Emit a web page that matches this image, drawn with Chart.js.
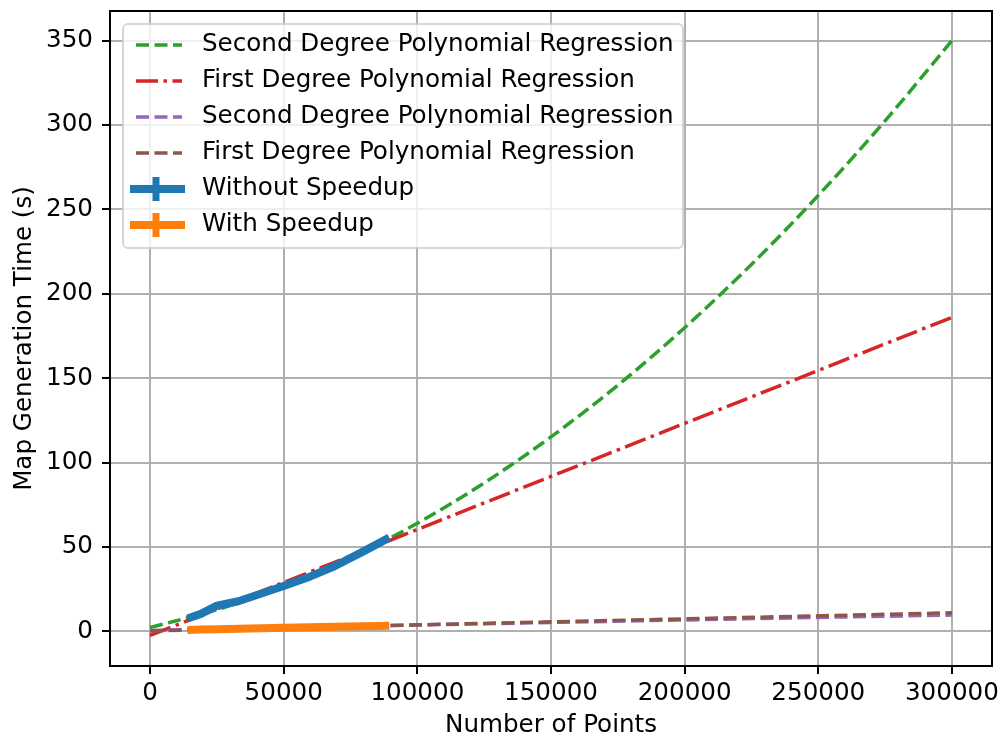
<!DOCTYPE html>
<html>
<head>
<meta charset="utf-8">
<script src="https://cdn.jsdelivr.net/npm/chart.js@4.4.1/dist/chart.umd.min.js"></script>
<style>
    html, body { margin: 0; padding: 0; background: #fff; }
    #wrap { width: 1003px; height: 742px; }
</style>
</head>
<body>
<div id="wrap"><canvas id="timeChart" width="1003" height="742"></canvas></div>
<script>
// tick positions
const xTicks = [0, 50000, 100000, 150000, 200000, 250000, 300000];
const yTicks = [0, 50, 100, 150, 200, 250, 300, 350];

// measured runs
const pointsNoSpeedup = [14000, 19000, 25000, 33000, 40000, 50000, 60000, 69000, 80000, 89500];
const timeNoSpeedup   = [7.5, 10.3, 15.2, 17.8, 21.5, 26.8, 32.5, 38.5, 47.5, 55.5];
const pointsSpeedup = [14000, 19000, 25000, 33000, 50000, 69000, 89500];
const timeSpeedup   = [0.8, 1.0, 1.2, 1.5, 2.0, 2.6, 3.3];

// regression curves
const quadX    = [0, 25000, 50000, 75000, 100000, 125000, 150000, 175000, 200000, 225000, 250000, 275000, 300000];
const quadSlow = [2.2, 12.8, 26.5, 43.5, 64, 87.9, 115.2, 145.8, 179.9, 217.4, 258.3, 302.5, 350];
const linX     = [0, 300000];
const linSlow  = [-2.5, 186];
const quadFastX = [0, 50000, 100000, 150000, 200000, 250000, 300000];
const quadFast  = [0.5, 2.1, 3.7, 5.2, 6.7, 8.2, 9.6];
const linFast   = [0.2, 10.9];

const FONT = '"DejaVu Sans", sans-serif';
const FSIZE = 24.6;
const pts = (xs, ys) => xs.map((x, i) => ({ x: x, y: ys[i] }));

// spines on top of the lines, legend box above everything
const frameAndLegend = {
    id: 'frameAndLegend',
    afterDatasetsDraw(chart) {
        const { ctx, chartArea: a } = chart;
        ctx.save();
        ctx.strokeStyle = '#000';
        ctx.lineWidth = 2;
        ctx.strokeRect(a.left, a.top, a.right - a.left, a.bottom - a.top);
        ctx.restore();
    },
    afterDraw(chart) {
        const ctx = chart.ctx;
        const box = { x: 123, y: 24, w: 560, h: 224, r: 5 };
        ctx.save();
        ctx.beginPath();
        ctx.roundRect(box.x, box.y, box.w, box.h, box.r);
        ctx.fillStyle = 'rgba(255,255,255,0.8)';
        ctx.fill();
        ctx.strokeStyle = 'rgba(204,204,204,0.8)';
        ctx.lineWidth = 2;
        ctx.stroke();

        ctx.font = FSIZE + 'px ' + FONT;
        ctx.textBaseline = 'middle';
        ctx.fillStyle = '#000';
        chart.data.datasets.forEach((ds, i) => {
            const cy = 45 + i * 36;
            ctx.strokeStyle = ds.borderColor;
            if (ds.errorStyle) {
                ctx.setLineDash([]);
                ctx.lineWidth = 8;
                ctx.beginPath();
                ctx.moveTo(130, cy);
                ctx.lineTo(185, cy);
                ctx.stroke();
                ctx.lineWidth = 7;
                ctx.beginPath();
                ctx.moveTo(156, cy - 12);
                ctx.lineTo(156, cy + 12);
                ctx.stroke();
            } else {
                ctx.setLineDash(ds.borderDash || []);
                ctx.lineWidth = ds.borderWidth;
                ctx.beginPath();
                ctx.moveTo(136, cy);
                ctx.lineTo(182, cy);
                ctx.stroke();
            }
            ctx.setLineDash([]);
            ctx.fillText(ds.label, 202, cy);
        });
        ctx.restore();
    }
};

const dash = [13, 5.5];
const dashDot = [22, 5.5, 3.5, 5.5];

new Chart(document.getElementById('timeChart'), {
    type: 'line',
    data: {
        datasets: [
            { label: 'Second Degree Polynomial Regression', data: pts(quadX, quadSlow),
              borderColor: '#2ca02c', borderWidth: 3.5, borderDash: dash, cubicInterpolationMode: 'monotone', order: 5 },
            { label: 'First Degree Polynomial Regression', data: pts(linX, linSlow),
              borderColor: '#d62728', borderWidth: 3.5, borderDash: dashDot, order: 4 },
            { label: 'Second Degree Polynomial Regression', data: pts(quadFastX, quadFast),
              borderColor: '#9467bd', borderWidth: 3.5, borderDash: dash, cubicInterpolationMode: 'monotone', order: 3 },
            { label: 'First Degree Polynomial Regression', data: pts(linX, linFast),
              borderColor: '#8c564b', borderWidth: 3.5, borderDash: dash, order: 2 },
            { label: 'Without Speedup', data: pts(pointsNoSpeedup, timeNoSpeedup),
              borderColor: '#1f77b4', borderWidth: 8, errorStyle: true, borderJoinStyle: 'round', order: 1 },
            { label: 'With Speedup', data: pts(pointsSpeedup, timeSpeedup),
              borderColor: '#ff7f0e', borderWidth: 8, errorStyle: true, borderJoinStyle: 'round', order: 0 }
        ]
    },
    options: {
        responsive: false,
        animation: false,
        devicePixelRatio: 1,
        layout: { padding: { left: 0, top: 11, right: 11, bottom: 0 } },
        elements: { point: { radius: 0 }, line: { tension: 0, fill: false } },
        plugins: { legend: { display: false }, tooltip: { enabled: false } },
        scales: {
            x: {
                type: 'linear',
                min: -15000,
                max: 315000,
                afterBuildTicks: (s) => { s.ticks = xTicks.map(v => ({ value: v })); },
                afterFit: (s) => { s.height = 76; s.paddingLeft = 0; s.paddingRight = 0; },
                grid: { color: '#b0b0b0', lineWidth: 2, tickColor: '#000', tickLength: 8, tickWidth: 2 },
                border: { display: false },
                ticks: { color: '#000', font: { family: FONT, size: FSIZE }, padding: 5, maxRotation: 0,
                         callback: (v) => String(v) },
                title: { display: true, text: 'Number of Points', color: '#000',
                         font: { family: FONT, size: FSIZE }, padding: { top: 0, bottom: 2 } }
            },
            y: {
                type: 'linear',
                min: -20.6,
                max: 367.6,
                afterBuildTicks: (s) => { s.ticks = yTicks.map(v => ({ value: v })); },
                afterFit: (s) => { s.width = 110; s.paddingTop = 0; s.paddingBottom = 0; },
                grid: { color: '#b0b0b0', lineWidth: 2, tickColor: '#000', tickLength: 8, tickWidth: 2 },
                border: { display: false },
                ticks: { color: '#000', font: { family: FONT, size: FSIZE }, padding: 9,
                         callback: (v) => String(v) },
                title: { display: true, text: 'Map Generation Time (s)', color: '#000',
                         font: { family: FONT, size: FSIZE }, padding: { top: 10, bottom: 0 } }
            }
        }
    },
    plugins: [frameAndLegend]
});
</script>
</body>
</html>
